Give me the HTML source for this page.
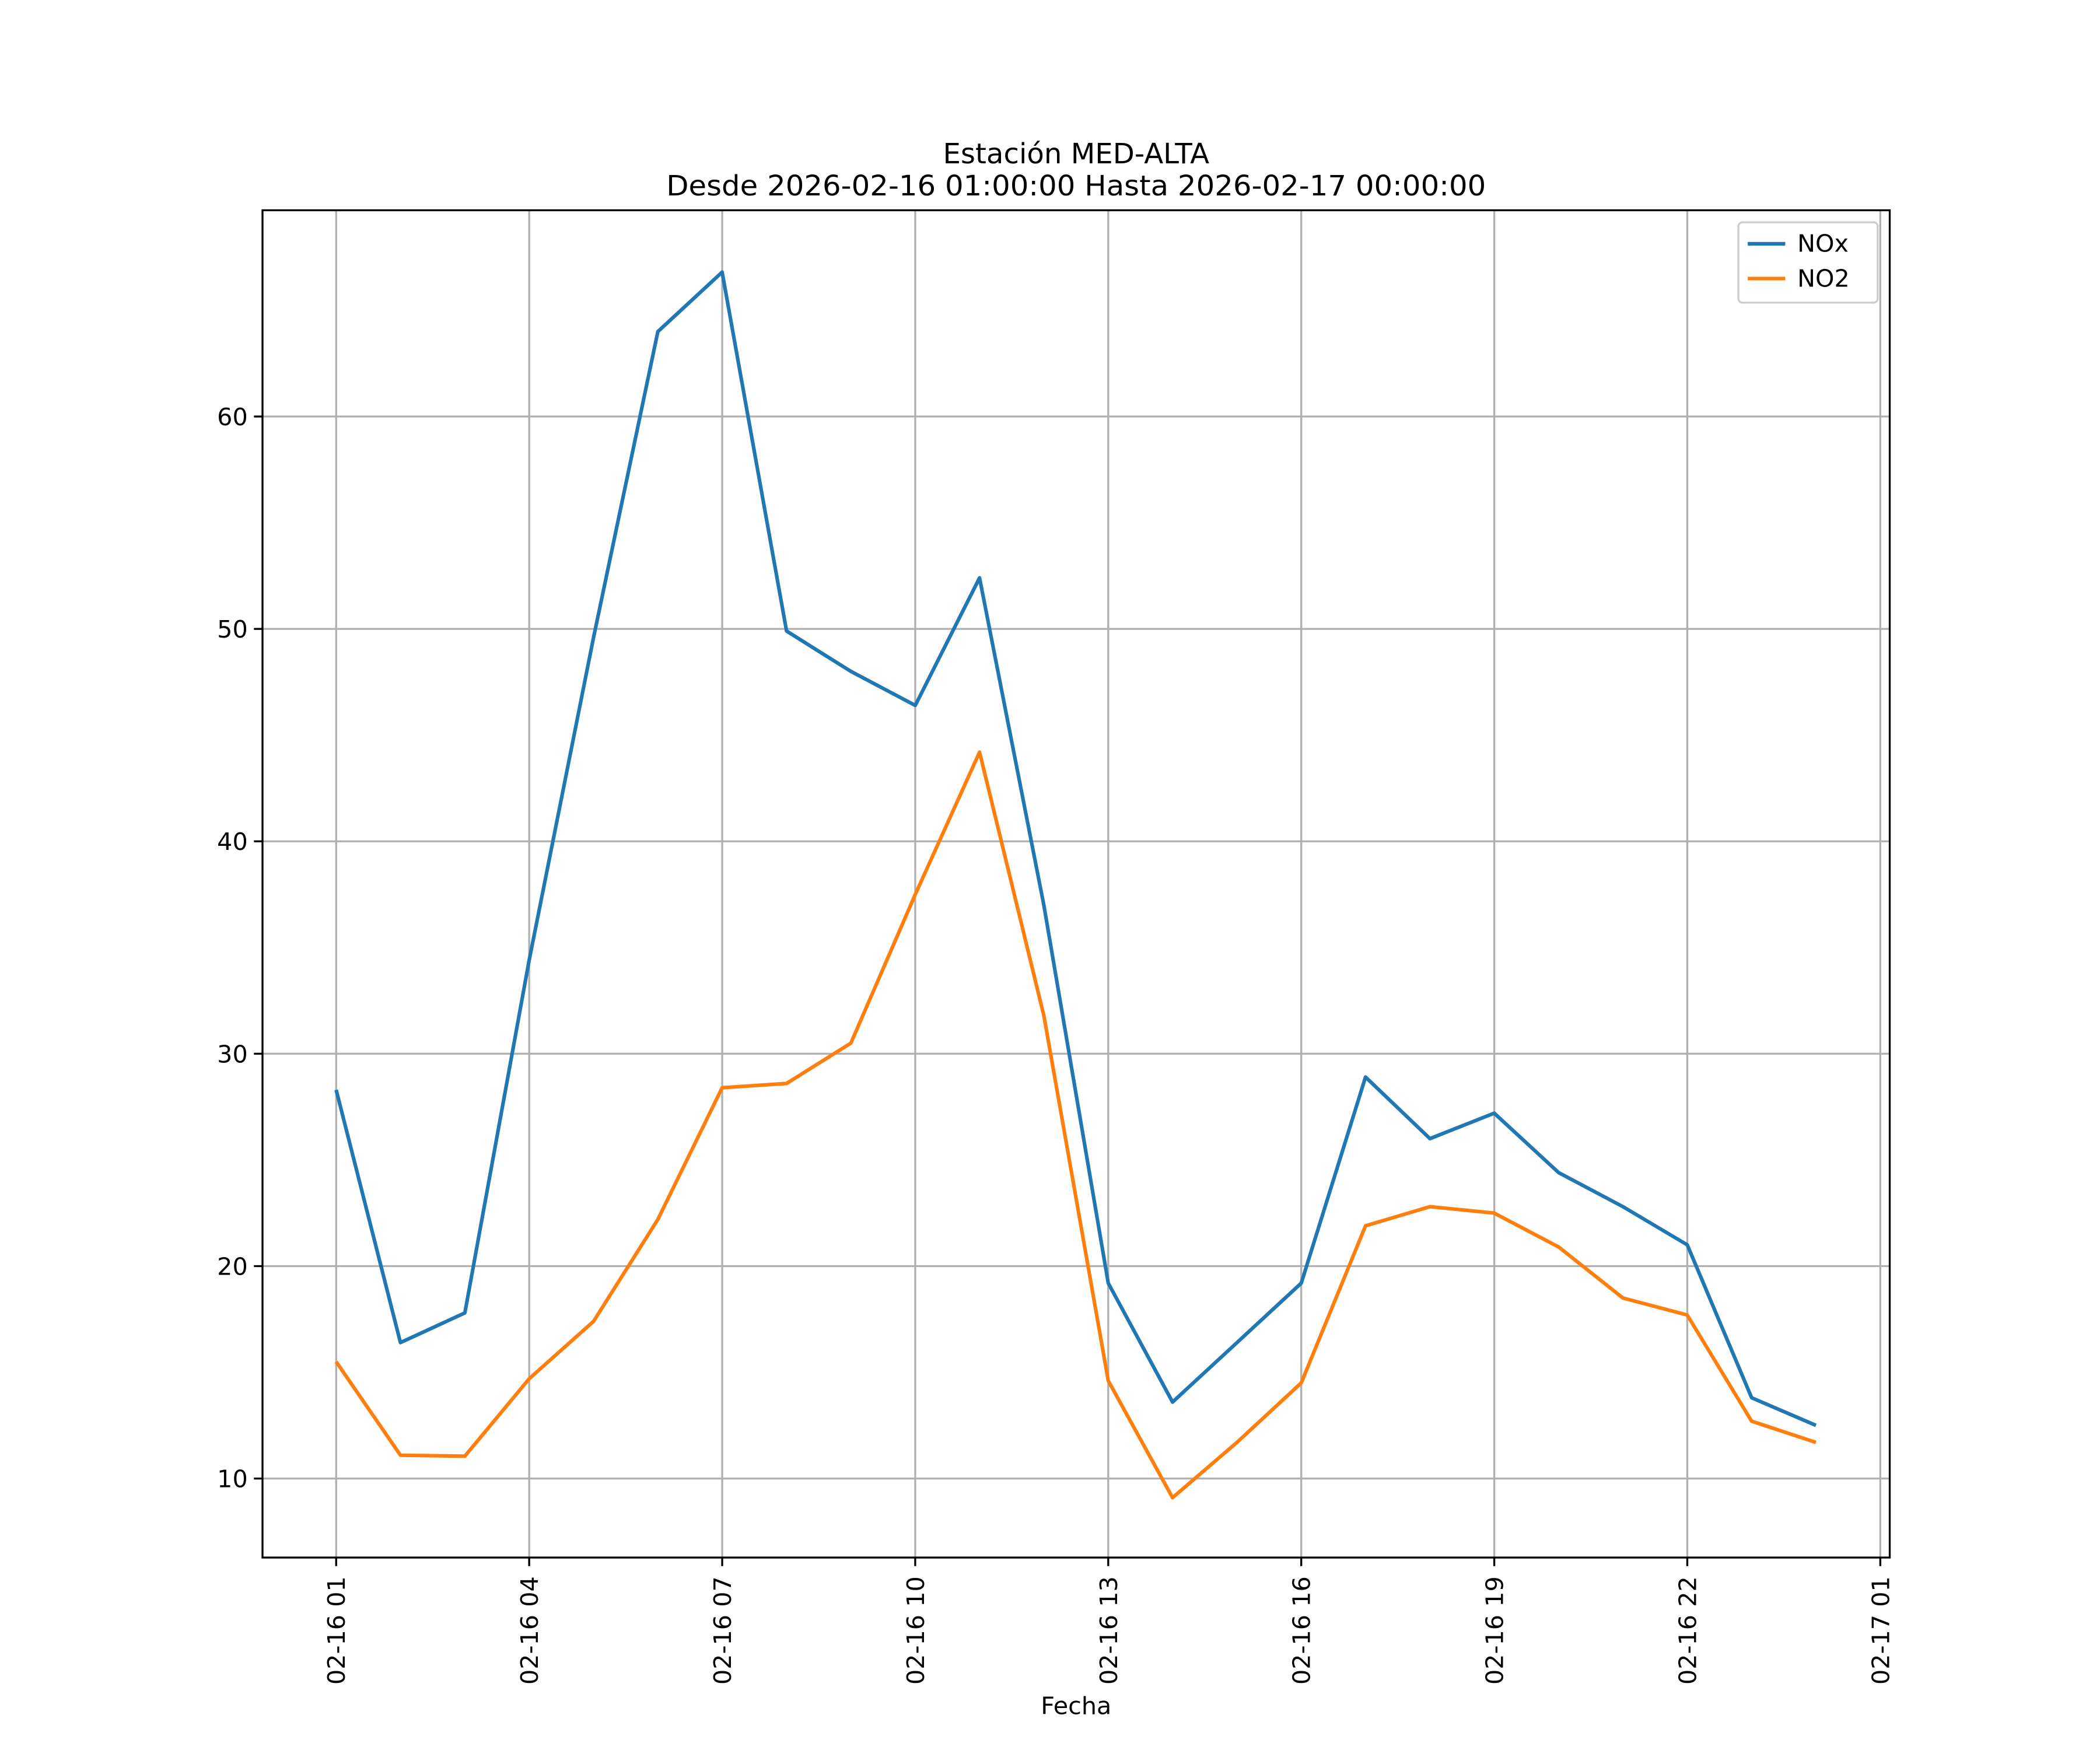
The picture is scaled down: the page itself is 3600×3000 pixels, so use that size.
<!DOCTYPE html>
<html><head><meta charset="utf-8"><style>html,body{margin:0;padding:0;background:#fff}svg{display:block}text{font-family:"DejaVu Sans","Liberation Sans",sans-serif;fill:#000}</style></head>
<body>
<svg id="chart" width="3600" height="3000" viewBox="0 0 1568 1306.7" preserveAspectRatio="none" xmlns="http://www.w3.org/2000/svg">
<rect width="1568" height="1307" fill="#fff"/>
<text x="803.5" y="122" font-size="21" text-anchor="middle">Estación MED-ALTA</text>
<text x="803.5" y="146" font-size="21" text-anchor="middle" textLength="612" lengthAdjust="spacingAndGlyphs">Desde 2026-02-16 01:00:00 Hasta 2026-02-17 00:00:00</text>
<g id="grid"></g>
<g id="series"></g>
<rect x="196" y="157" width="1215" height="1006" fill="none" stroke="#000" stroke-width="1.45"/>
<g id="axes"></g>
<text x="803.5" y="1280" font-size="18" text-anchor="middle">Fecha</text>
<g>
<rect x="1298" y="166" width="104" height="60" rx="3" fill="#fff" fill-opacity="0.8" stroke="#ccc" stroke-width="1.45"/>
<line x1="1305" y1="182" x2="1333" y2="182" stroke="#1f77b4" stroke-width="2.7"/>
<text x="1342" y="188" font-size="18">NOx</text>
<line x1="1305" y1="208" x2="1333" y2="208" stroke="#ff7f0e" stroke-width="2.7"/>
<text x="1342" y="214" font-size="18">NO2</text>
</g>
</svg>
<script>
const hours = [1,2,3,4,5,6,7,8,9,10,11,12,13,14,15,16,17,18,19,20,21,22,23,24];
const noxValues = [28.3,16.4,17.8,34.4,49.6,64.0,66.8,49.9,48.0,46.4,52.4,37.0,19.2,13.6,16.4,19.2,28.9,26.0,27.2,24.4,22.8,21.0,13.8,12.5];
const no2Values = [15.5,11.1,11.05,14.7,17.4,22.2,28.4,28.6,30.5,37.5,44.2,31.8,14.6,9.1,11.7,14.5,21.9,22.8,22.5,20.9,18.5,17.7,12.7,11.7];
const xTickHours = [1,4,7,10,13,16,19,22,25];
const xTickLabels = ["02-16 01","02-16 04","02-16 07","02-16 10","02-16 13","02-16 16","02-16 19","02-16 22","02-17 01"];
const yTicks = [10,20,30,40,50,60];

const NS="http://www.w3.org/2000/svg";
const X0=196,X1=1411,Y0=157,Y1=1163;
function xs(h){return 251+(h-1)*48.04;}
function ys(v){return 1104-(v-10)*15.86;}
function el(tag,attrs,parent){const e=document.createElementNS(NS,tag);for(const k in attrs)e.setAttribute(k,attrs[k]);parent.appendChild(e);return e;}
const grid=document.getElementById('grid'),axes=document.getElementById('axes'),series=document.getElementById('series');
xTickHours.forEach((h,i)=>{
  const x=xs(h);
  const g=el('line',{x1:x,x2:x,y1:Y0,y2:Y1,stroke:'#b0b0b0','stroke-width':1.45},grid);
  
  
  el('line',{x1:x,x2:x,y1:Y1,y2:Y1+6.4,stroke:'#000','stroke-width':1.45},axes);
  const t=el('text',{x:0,y:0,'font-size':18,'text-anchor':'end',transform:`translate(${x+6.5},${Y1+14}) rotate(-90)`},axes);
  
  
  t.textContent=xTickLabels[i];
});
yTicks.forEach(v=>{
  const y=ys(v);
  const g=el('line',{x1:X0,x2:X1,y1:y,y2:y,stroke:'#b0b0b0','stroke-width':1.45},grid);
  
  
  el('line',{x1:X0-6.4,x2:X0,y1:y,y2:y,stroke:'#000','stroke-width':1.45},axes);
  const t=el('text',{x:X0-11,y:y+6.5,'font-size':18,'text-anchor':'end'},axes);
  
  
  t.textContent=v;
});
function line(vals,color,name){
  const pts=vals.map((v,i)=>xs(hours[i]).toFixed(1)+','+ys(v).toFixed(1)).join(' ');
  const p=el('polyline',{points:pts,fill:'none',stroke:color,'stroke-width':2.7,'stroke-linejoin':'round'},series);
  
  
}
line(noxValues,'#1f77b4','nox-line');
line(no2Values,'#ff7f0e','no2-line');
</script>
</body></html>
